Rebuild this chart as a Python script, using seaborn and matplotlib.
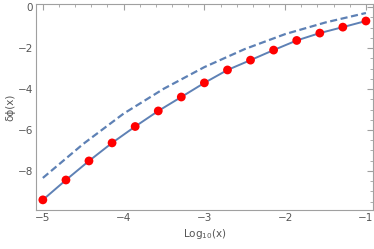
import matplotlib
matplotlib.use("Agg")
import matplotlib.pyplot as plt
import pandas as pd
import seaborn as sns
from matplotlib.ticker import MultipleLocator

# pontos calculados (vermelhos) e curva continua
log_x = [-5.0, -4.714, -4.429, -4.143, -3.857, -3.571, -3.286, -3.0,
         -2.714, -2.429, -2.143, -1.857, -1.571, -1.286, -1.0]
delta_phi = [-9.41, -8.44, -7.51, -6.63, -5.83, -5.07, -4.39, -3.70,
             -3.07, -2.59, -2.10, -1.63, -1.27, -0.98, -0.68]

# curva tracejada (aproximacao)
log_x_dash = [-5.0, -4.5, -4.0, -3.5, -3.0, -2.5, -2.0, -1.5, -1.0]
delta_phi_dash = [-8.34, -6.68, -5.20, -3.98, -2.93, -2.05, -1.32, -0.75, -0.29]

df = pd.DataFrame({'x': log_x, 'y': delta_phi})
df_dash = pd.DataFrame({'x': log_x_dash, 'y': delta_phi_dash})

sns.set_theme(style='white')
plt.rcParams['font.family'] = ['DejaVu Sans']

blue = '#5E81B5'
frame = '#a0a0a0'
label_c = '#555555'

fig, ax = plt.subplots(figsize=(3.74, 2.49), dpi=100)
fig.subplots_adjust(left=0.096, right=0.997, top=0.984, bottom=0.157)

sns.lineplot(data=df_dash, x='x', y='y', ax=ax, color=blue, linewidth=1.6,
             linestyle=(0, (3.2, 1.6)))
sns.lineplot(data=df, x='x', y='y', ax=ax, color=blue, linewidth=1.4)
sns.scatterplot(data=df, x='x', y='y', ax=ax, color='red', s=40,
                edgecolor='none', zorder=3)

ax.set_xlim(-5.086, -0.914)
ax.set_ylim(-9.90, 0.15)
ax.xaxis.set_major_locator(MultipleLocator(1))
ax.xaxis.set_minor_locator(MultipleLocator(0.2))
ax.yaxis.set_major_locator(MultipleLocator(2))
ax.yaxis.set_minor_locator(MultipleLocator(0.5))

for s in ax.spines.values():
    s.set_color(frame)
    s.set_linewidth(0.8)

ax.tick_params(which='both', direction='in', top=True, right=True,
               color=frame, labelcolor=label_c, labelsize=7.5, pad=2)
ax.tick_params(which='major', length=4, width=0.8)
ax.tick_params(which='minor', length=2, width=0.6)

ax.set_xlabel(r'$\mathregular{Log_{10}(x)}$', fontsize=7.5, color=label_c, labelpad=3)
ax.set_ylabel('δϕ(x)', fontsize=7.5, color=label_c, labelpad=2)

fig.savefig('out.png', dpi=100)
